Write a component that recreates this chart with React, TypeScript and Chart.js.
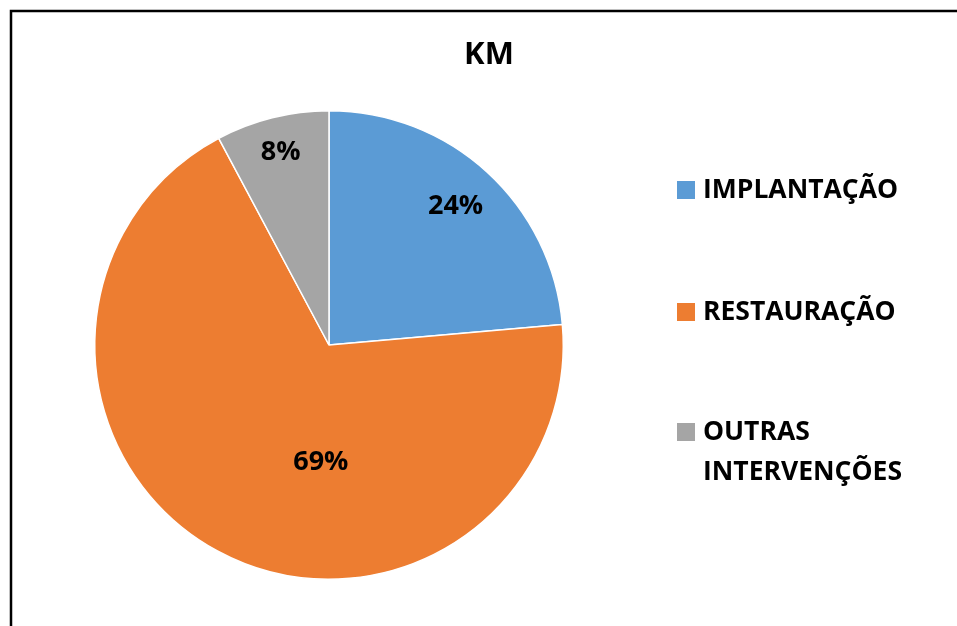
import React, { useEffect, useRef } from "react";
import { Chart, registerables } from "chart.js";

Chart.register(...registerables);

const categories = ["IMPLANTAÇÃO", "RESTAURAÇÃO", "OUTRAS INTERVENÇÕES"];
const shares = [23.6, 68.6, 7.8];
const colors = ["#5B9BD5", "#ED7D31", "#A5A5A5"];
const chartTitle = "KM";

const FONT = "'Open Sans', 'Noto Sans', sans-serif";

// label placement style: radial fraction and optional angle (deg from top, clockwise)
const labelPlacement = [
  { frac: 0.8 },
  { frac: 0.5, angle: 184 },
  { frac: 0.85 },
];

const decorPlugin = {
  id: "decor",
  afterDraw(chart: any) {
    const ctx = chart.ctx as CanvasRenderingContext2D;
    ctx.save();
    // frame
    ctx.strokeStyle = "#000";
    ctx.lineWidth = 2.5;
    ctx.strokeRect(11, 11, 1200, 1200);

    // title
    ctx.fillStyle = "#000";
    ctx.font = `bold 31px ${FONT}`;
    ctx.textAlign = "center";
    ctx.textBaseline = "middle";
    ctx.fillText(chartTitle, 489, 55);

    // data labels
    const meta = chart.getDatasetMeta(0);
    const data = chart.data.datasets[0].data as number[];
    const total = data.reduce((a, b) => a + b, 0);
    ctx.font = `bold 27px ${FONT}`;
    meta.data.forEach((arc: any, i: number) => {
      const p = arc.getProps(["x", "y", "startAngle", "endAngle", "outerRadius"], true);
      const pl = labelPlacement[i] || { frac: 0.7 };
      let ang = (p.startAngle + p.endAngle) / 2;
      if (pl.angle !== undefined) ang = (pl.angle * Math.PI) / 180 - Math.PI / 2;
      const r = p.outerRadius * pl.frac;
      const x = p.x + Math.cos(ang) * r;
      const y = p.y + Math.sin(ang) * r;
      const txt = Math.round((data[i] / total) * 100) + "%";
      ctx.fillText(txt, x, y);
    });

    // legend
    ctx.textAlign = "left";
    ctx.font = `bold 26.5px ${FONT}`;
    const legendX = 677;
    const rowsY = [190, 312, 432];
    const lineH = 40;
    const maxW = 230;
    (chart.data.labels as string[]).forEach((lab, i) => {
      const cy = rowsY[i];
      ctx.fillStyle = colors[i];
      ctx.fillRect(legendX, cy - 9, 18, 18);
      ctx.fillStyle = "#000";
      const words = lab.split(" ");
      const lines: string[] = [];
      let cur = "";
      words.forEach((w) => {
        const test = cur ? cur + " " + w : w;
        if (ctx.measureText(test).width > maxW && cur) {
          lines.push(cur);
          cur = w;
        } else cur = test;
      });
      if (cur) lines.push(cur);
      lines.forEach((ln, k) => ctx.fillText(ln, legendX + 26, cy + k * lineH));
    });
    ctx.restore();
  },
};

export default function App() {
  const ref = useRef<HTMLCanvasElement | null>(null);
  useEffect(() => {
    if (!ref.current) return;
    const chart = new Chart(ref.current, {
      type: "pie",
      data: {
        labels: categories,
        datasets: [
          {
            data: shares,
            backgroundColor: colors,
            borderColor: "#ffffff",
            borderWidth: 1.5,
          },
        ],
      },
      options: {
        animation: false,
        responsive: false,
        layout: { padding: { left: 94, right: 393, top: 110, bottom: 46 } },
        plugins: {
          legend: { display: false },
          tooltip: { enabled: false },
          title: { display: false },
        },
      },
      plugins: [decorPlugin],
    });
    return () => chart.destroy();
  }, []);
  return (
    <canvas
      ref={ref}
      width={957}
      height={626}
      style={{ position: "fixed", left: 0, top: 0, width: 957, height: 626, background: "#fff" }}
    />
  );
}
